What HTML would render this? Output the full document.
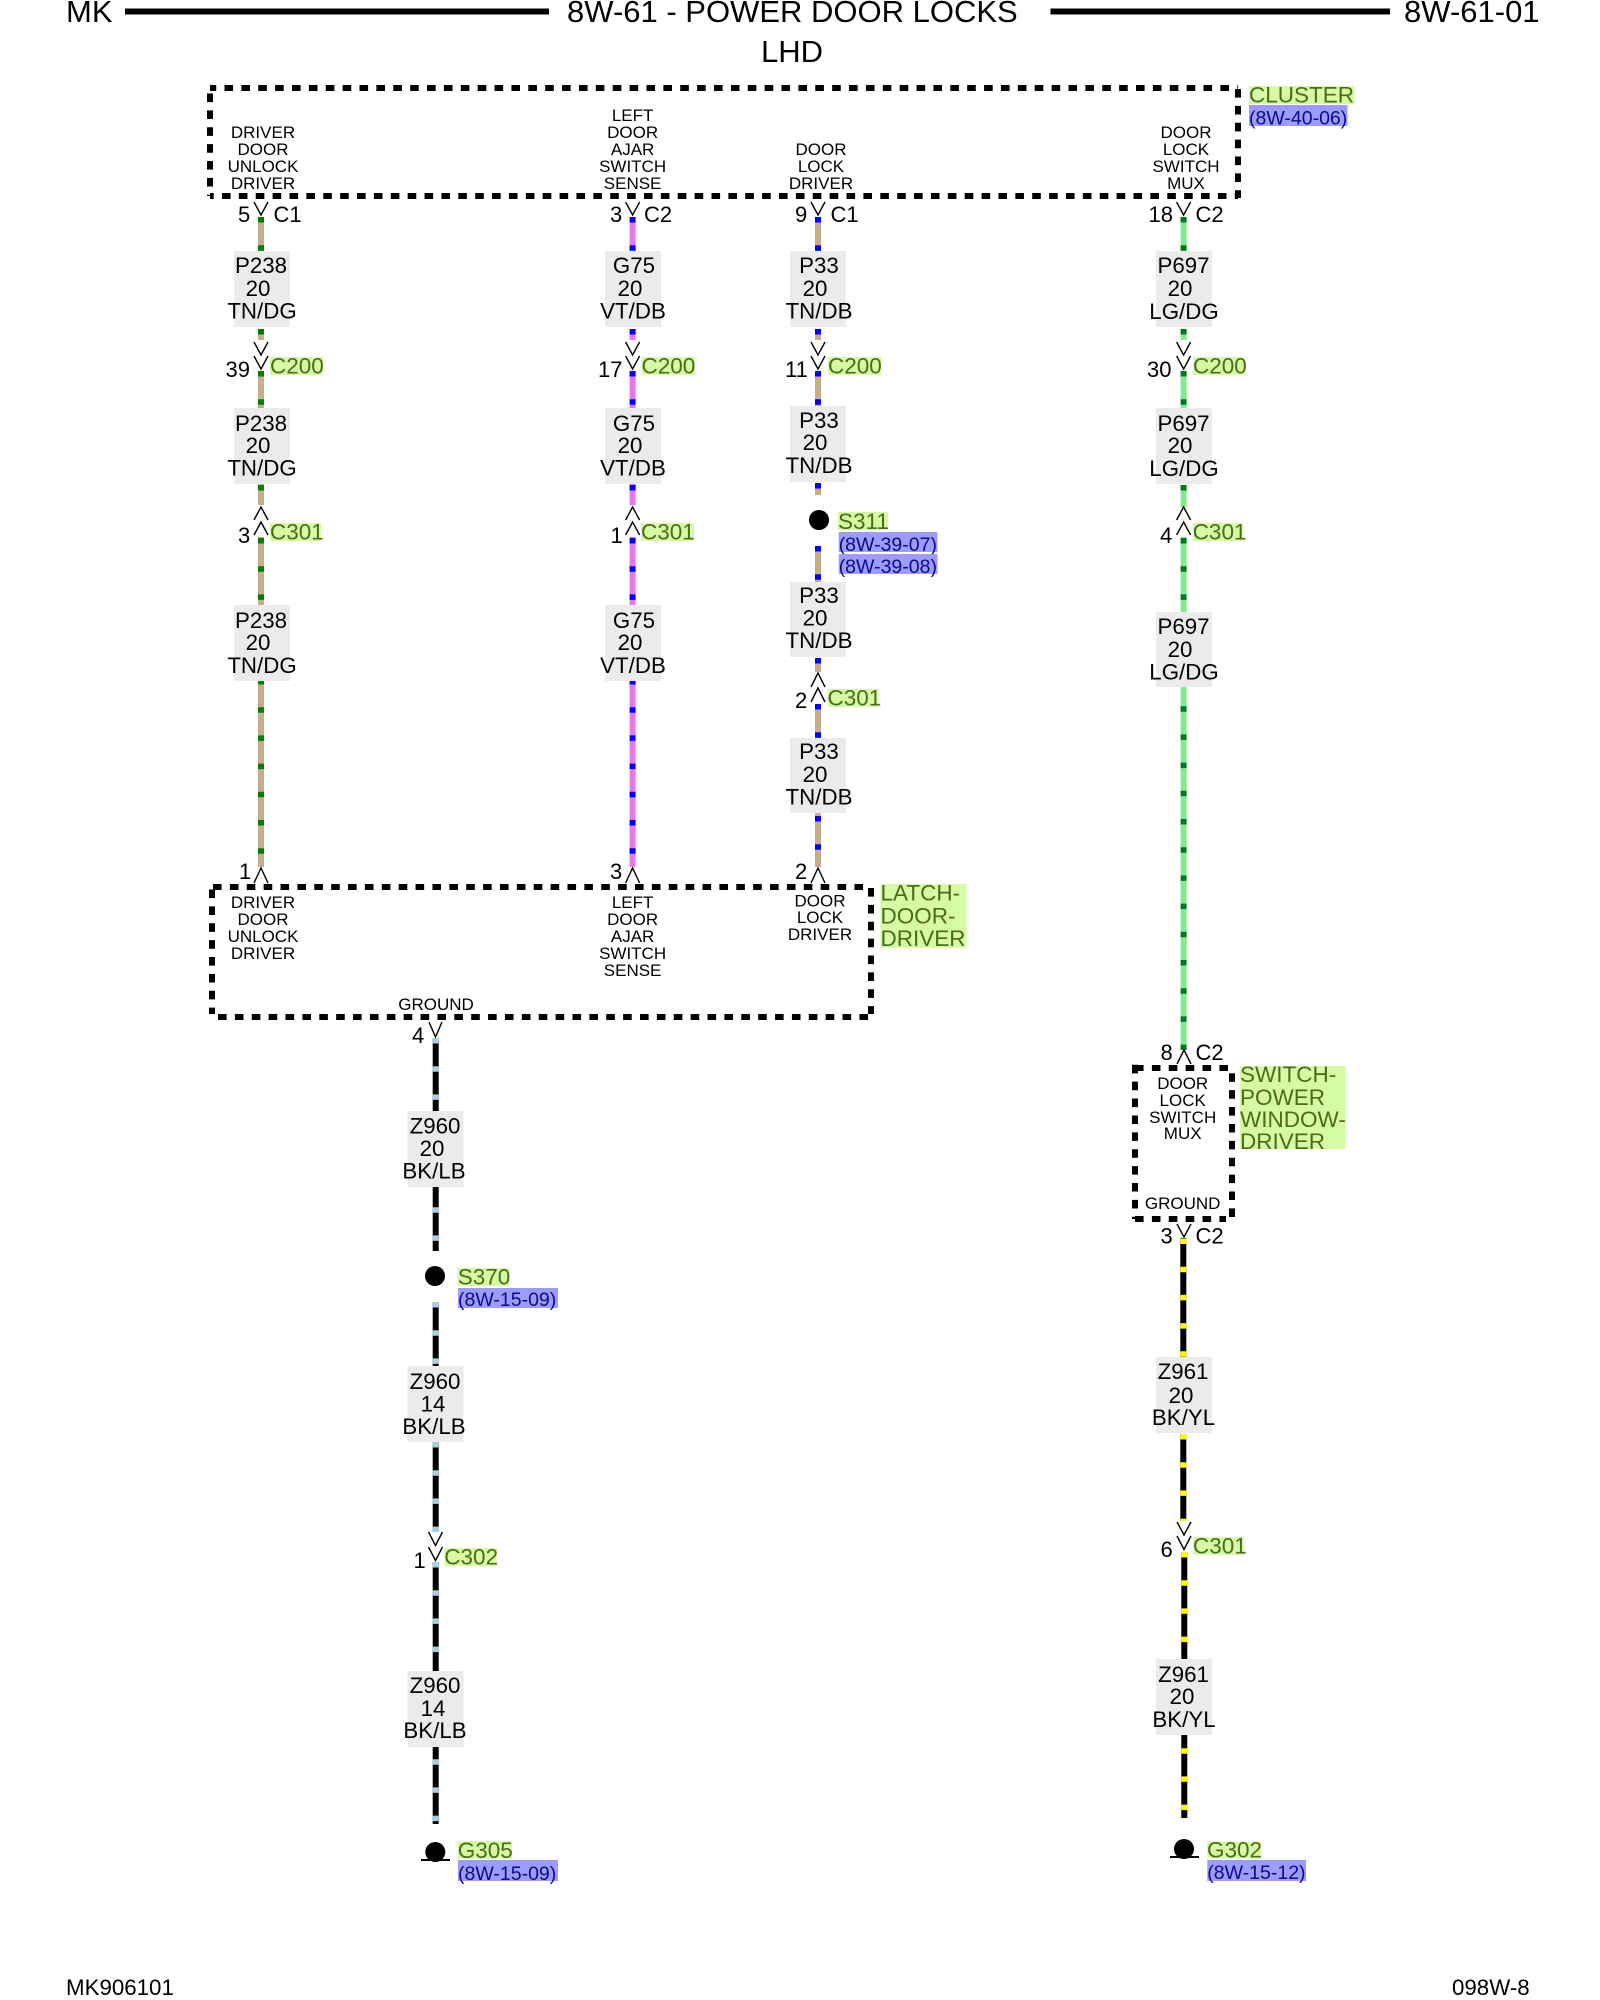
<!DOCTYPE html>
<html><head><meta charset="utf-8"><style>
html,body{margin:0;padding:0;background:#fff}
svg{display:block}
text{font-family:"Liberation Sans",Arial,sans-serif;fill:#000}
.t{font-size:31px}
.l{font-size:22.3px;text-anchor:middle}
.p{font-size:17px;text-anchor:middle}
.n{font-size:22px}
.f{font-size:22.3px}
.g{font-size:22.5px;fill:#4c6b17}
.v{font-size:19.5px;fill:#0a0a8c}
.hg{fill:#d6fba6}.hv{fill:#9c9cff}.lb{fill:#ebebeb}
.w{fill:none;stroke-width:6}
.d{fill:none;stroke-width:6;stroke-dasharray:5.5 22.7}
.c{fill:none;stroke:#000;stroke-width:1.4}
.b{fill:none;stroke:#000;stroke-width:6;stroke-dasharray:8.6 8.28}
</style></head><body>
<svg width="1600" height="2000" viewBox="0 0 1600 2000" xmlns="http://www.w3.org/2000/svg">
<rect width="1600" height="2000" fill="#fff"/>

<!-- header -->
<text class="t" x="66" y="22">MK</text>
<rect x="125" y="8.5" width="424" height="6"/>
<text class="t" x="567" y="22">8W-61 - POWER DOOR LOCKS</text>
<rect x="1050.5" y="8.5" width="339.5" height="6"/>
<text class="t" x="1404" y="22">8W-61-01</text>
<text class="t" x="761" y="62">LHD</text>

<!-- wires -->
<path class="w" stroke="#c8ad88" d="M261 217V251M261 329V340M261 371V408M261 484V505M261 537V605M261 681V867"/>
<path class="d" stroke="#008000" d="M261 217V251M261 329V336M261 371V408M261 485V491M261 538V605M261 679V867"/>
<path class="w" stroke="#e878e8" d="M632.6 217V251M632.6 329V340M632.6 371V408M632.6 484V505M632.6 537V605M632.6 681V867"/>
<path class="d" stroke="#0000ff" d="M632.6 217V251M632.6 329V336M632.6 371V408M632.6 485V491M632.6 538V605M632.6 679V867"/>
<path class="w" stroke="#c8ad88" d="M818 217V251M818 329V340M818 371V406M818 483V495M818 546V582M818 658V672M818 704V738M818 813V867"/>
<path class="d" stroke="#0000ff" d="M818 217V251M818 329V336M818 371V406M818 483V490M818 546V582M818 658V664M818 704V738M818 816V867"/>
<path class="w" stroke="#84ea8e" d="M1183.6 217V251M1183.6 329V340M1183.6 371V408M1183.6 485V507M1183.6 537V612M1183.6 687V1049"/>
<path class="d" stroke="#007a1e" d="M1183.6 217V251M1183.6 329V336M1183.6 371V408M1183.6 485V491M1183.6 538V612M1183.6 678V1050"/>
<path class="w" stroke="#000" d="M435.7 1038V1111M435.7 1187V1251M435.7 1302V1366M435.7 1442V1532M435.7 1562V1671M435.7 1747V1824"/>
<path class="d" stroke="#a8d0dc" d="M435.7 1038V1111M435.7 1179V1251M435.7 1302V1366M435.7 1442V1532M435.7 1562V1671M435.7 1731V1824"/>
<path class="w" stroke="#000" d="M1183.3 1238V1357M1183.3 1434V1521M1184.3 1552V1659M1184.3 1735V1818"/>
<path class="d" stroke="#ffff00" d="M1183.3 1238.5V1357M1183.3 1434V1521M1184.3 1552V1659M1184.3 1720V1818"/>

<!-- component boxes -->
<path class="b" style="stroke-dashoffset:2.4" d="M210 88H1238"/>
<path class="b" style="stroke-dashoffset:4.9" d="M210 196H1238"/>
<path class="b" d="M210 93.5V196"/>
<path class="b" d="M1238 89V198"/>

<path class="b" d="M213 887H871"/>
<path class="b" d="M218 1017H868"/>
<path class="b" d="M212 889.5V1014"/>
<path class="b" d="M871 888V1014"/>

<path class="b" d="M1135 1068H1229"/>
<path class="b" d="M1135 1219H1226"/>
<path class="b" d="M1135 1064.8V1219"/>
<path class="b" d="M1232 1073.3V1219"/>

<!-- chevrons -->
<path class="c" d="M254 202L261 215L268 202M254 342L261 355L268 342M254 356L261 369L268 356M254 520L261 507L268 520M254 535L261 522L268 535M254 883L261 868L268 883"/>
<path class="c" d="M625.6 202L632.6 215L639.6 202M625.6 342L632.6 355L639.6 342M625.6 356L632.6 369L639.6 356M625.6 520L632.6 507L639.6 520M625.6 535L632.6 522L639.6 535M625.6 883L632.6 868L639.6 883"/>
<path class="c" d="M811 202L818 215L825 202M811 342L818 355L825 342M811 356L818 369L825 356M811 687L818 673L825 687M811 702L818 688L825 702M811 883L818 868L825 883"/>
<path class="c" d="M1176.6 202L1183.6 215L1190.6 202M1176.6 342L1183.6 355L1190.6 342M1176.6 356L1183.6 369L1190.6 356M1176.6 520L1183.6 507L1190.6 520M1176.6 535L1183.6 522L1190.6 535M1177 1064L1184 1050L1191 1064"/>
<path class="c" d="M429 1022L435.5 1037L442 1022M428.5 1532L435.5 1545.5L442.5 1532M428.5 1547L435.5 1560.5L442.5 1547"/>
<path class="c" d="M1177 1224L1184 1237L1191 1224M1177 1522L1184 1535L1191 1522M1177 1536L1184 1549.5L1191 1536"/>

<!-- wire label backgrounds -->
<rect class="lb" x="234" y="251" width="56" height="76"/><rect class="lb" x="234" y="408" width="56" height="76"/><rect class="lb" x="234" y="605" width="56" height="76"/>
<rect class="lb" x="605" y="251" width="56" height="76"/><rect class="lb" x="605" y="408" width="56" height="76"/><rect class="lb" x="605" y="605" width="56" height="76"/>
<rect class="lb" x="790" y="251" width="56" height="76"/><rect class="lb" x="790" y="406" width="56" height="76"/><rect class="lb" x="790" y="582" width="56" height="75"/><rect class="lb" x="790" y="738" width="56" height="75"/>
<rect class="lb" x="1156" y="251" width="56" height="76"/><rect class="lb" x="1156" y="408" width="56" height="76"/><rect class="lb" x="1156" y="612" width="56" height="75"/>
<rect class="lb" x="407.5" y="1111" width="56" height="76"/><rect class="lb" x="407.5" y="1366" width="56" height="76"/><rect class="lb" x="407.5" y="1671" width="56" height="76"/>
<rect class="lb" x="1156" y="1357" width="56" height="76"/><rect class="lb" x="1156" y="1659" width="56" height="76"/>

<!-- wire labels -->
<text class="l" x="261" y="273">P238</text><text class="l" x="258" y="296">20</text><text class="l" x="262" y="318.5">TN/DG</text>
<text class="l" x="261" y="431">P238</text><text class="l" x="258" y="453">20</text><text class="l" x="262" y="475.5">TN/DG</text>
<text class="l" x="261" y="628">P238</text><text class="l" x="258" y="650">20</text><text class="l" x="262" y="673">TN/DG</text>

<text class="l" x="634" y="273">G75</text><text class="l" x="630" y="296">20</text><text class="l" x="633" y="318.5">VT/DB</text>
<text class="l" x="634" y="431">G75</text><text class="l" x="630" y="453">20</text><text class="l" x="633" y="475.5">VT/DB</text>
<text class="l" x="634" y="628">G75</text><text class="l" x="630" y="650">20</text><text class="l" x="633" y="673">VT/DB</text>

<text class="l" x="819" y="273">P33</text><text class="l" x="815" y="296">20</text><text class="l" x="819" y="318.5">TN/DB</text>
<text class="l" x="819" y="428">P33</text><text class="l" x="815" y="450">20</text><text class="l" x="819" y="473">TN/DB</text>
<text class="l" x="819" y="603">P33</text><text class="l" x="815" y="625.5">20</text><text class="l" x="819" y="648">TN/DB</text>
<text class="l" x="819" y="759">P33</text><text class="l" x="815" y="782">20</text><text class="l" x="819" y="804.5">TN/DB</text>

<text class="l" x="1183.5" y="273">P697</text><text class="l" x="1180" y="296">20</text><text class="l" x="1184" y="319">LG/DG</text>
<text class="l" x="1183.5" y="431">P697</text><text class="l" x="1180" y="453">20</text><text class="l" x="1184" y="476">LG/DG</text>
<text class="l" x="1183.5" y="634">P697</text><text class="l" x="1180" y="657">20</text><text class="l" x="1184" y="679.5">LG/DG</text>

<text class="l" x="435" y="1133.5">Z960</text><text class="l" x="432" y="1156">20</text><text class="l" x="434" y="1178.5">BK/LB</text>
<text class="l" x="435" y="1389">Z960</text><text class="l" x="433" y="1411.5">14</text><text class="l" x="434" y="1434">BK/LB</text>
<text class="l" x="435" y="1693">Z960</text><text class="l" x="433" y="1716">14</text><text class="l" x="435" y="1738">BK/LB</text>

<text class="l" x="1183" y="1379">Z961</text><text class="l" x="1181" y="1403">20</text><text class="l" x="1183.5" y="1425">BK/YL</text>
<text class="l" x="1183.5" y="1682">Z961</text><text class="l" x="1182" y="1704">20</text><text class="l" x="1184" y="1727">BK/YL</text>

<!-- pin names : cluster -->
<text class="p" x="263" y="138">DRIVER</text><text class="p" x="263" y="155">DOOR</text><text class="p" x="263" y="172">UNLOCK</text><text class="p" x="263" y="189">DRIVER</text>
<text class="p" x="632.6" y="121">LEFT</text><text class="p" x="632.6" y="138">DOOR</text><text class="p" x="632.6" y="155">AJAR</text><text class="p" x="632.6" y="172">SWITCH</text><text class="p" x="632.6" y="189">SENSE</text>
<text class="p" x="821" y="155">DOOR</text><text class="p" x="821" y="172">LOCK</text><text class="p" x="821" y="189">DRIVER</text>
<text class="p" x="1186" y="138">DOOR</text><text class="p" x="1186" y="155">LOCK</text><text class="p" x="1186" y="172">SWITCH</text><text class="p" x="1186" y="189">MUX</text>

<!-- pin names : latch -->
<text class="p" x="263" y="908">DRIVER</text><text class="p" x="263" y="925">DOOR</text><text class="p" x="263" y="942">UNLOCK</text><text class="p" x="263" y="959">DRIVER</text>
<text class="p" x="632.6" y="908">LEFT</text><text class="p" x="632.6" y="925">DOOR</text><text class="p" x="632.6" y="942">AJAR</text><text class="p" x="632.6" y="959">SWITCH</text><text class="p" x="632.6" y="976">SENSE</text>
<text class="p" x="820" y="906.5">DOOR</text><text class="p" x="820" y="923">LOCK</text><text class="p" x="820" y="940">DRIVER</text>
<text class="p" x="436" y="1013" dy="-3">GROUND</text>

<!-- pin names : switch -->
<text class="p" x="1182.7" y="1089">DOOR</text><text class="p" x="1182.7" y="1106">LOCK</text><text class="p" x="1182.7" y="1123">SWITCH</text><text class="p" x="1182.7" y="1139">MUX</text>
<text class="p" x="1182.7" y="1209">GROUND</text>

<!-- pin numbers -->
<text class="n" x="238" y="222">5</text><text class="n" x="273.5" y="222">C1</text>
<text class="n" x="610" y="222">3</text><text class="n" x="644" y="222">C2</text>
<text class="n" x="795" y="222">9</text><text class="n" x="830.5" y="222">C1</text>
<text class="n" x="1148.5" y="222">18</text><text class="n" x="1195.5" y="222">C2</text>
<text class="n" x="225.5" y="377">39</text><text class="n" x="598" y="377">17</text><text class="n" x="785" y="377">11</text><text class="n" x="1147" y="377">30</text>
<text class="n" x="238" y="543">3</text><text class="n" x="610.5" y="543">1</text><text class="n" x="1160" y="543">4</text><text class="n" x="795" y="708">2</text>
<text class="n" x="239" y="879">1</text><text class="n" x="610" y="879">3</text><text class="n" x="795" y="879">2</text>
<text class="n" x="412" y="1043">4</text>
<text class="n" x="1160.5" y="1060">8</text><text class="n" x="1195.5" y="1060">C2</text>
<text class="n" x="1160.5" y="1243.5">3</text><text class="n" x="1195.5" y="1243.5">C2</text>
<text class="n" x="413.5" y="1568">1</text>
<text class="n" x="1160.5" y="1557">6</text>

<!-- connector names -->
<rect class="hg" x="270" y="357" width="53" height="18"/><text class="g" x="270" y="373.5">C200</text>
<rect class="hg" x="641.5" y="357" width="53.5" height="18"/><text class="g" x="641.5" y="373.5">C200</text>
<rect class="hg" x="828" y="357" width="53" height="18"/><text class="g" x="828" y="373.5">C200</text>
<rect class="hg" x="1193" y="357" width="52" height="18"/><text class="g" x="1193" y="373.5">C200</text>
<rect class="hg" x="270" y="523" width="51" height="18"/><text class="g" x="270" y="539.5">C301</text>
<rect class="hg" x="641" y="523" width="53" height="18"/><text class="g" x="641" y="539.5">C301</text>
<rect class="hg" x="1192.7" y="523" width="50" height="18"/><text class="g" x="1192.7" y="539.5">C301</text>
<rect class="hg" x="827.5" y="689" width="51" height="18"/><text class="g" x="827.5" y="705.5">C301</text>
<rect class="hg" x="444.3" y="1548" width="52.4" height="18"/><text class="g" x="444.3" y="1564.5">C302</text>
<rect class="hg" x="1193" y="1537" width="51" height="18"/><text class="g" x="1193" y="1553.5">C301</text>

<!-- component names -->
<rect class="hg" x="1249" y="86" width="105.6" height="18"/><text class="g" x="1249" y="102.5">CLUSTER</text>
<rect class="hv" x="1249" y="105" width="98.5" height="21"/><text class="v" x="1249" y="124.5">(8W-40-06)</text>
<rect class="hg" x="880.5" y="884" width="86" height="64"/><text class="g" x="880.5" y="900.5">LATCH-</text><text class="g" x="880.5" y="923.5">DOOR-</text><text class="g" x="880.5" y="946">DRIVER</text>
<rect class="hg" x="1240" y="1066" width="105.7" height="83"/><text class="g" x="1240" y="1082">SWITCH-</text><text class="g" x="1240" y="1105">POWER</text><text class="g" x="1240" y="1127">WINDOW-</text><text class="g" x="1240" y="1149">DRIVER</text>

<!-- splices -->
<ellipse cx="819" cy="520" rx="10" ry="10"/>
<rect class="hg" x="838" y="512" width="50" height="18"/><text class="g" x="838" y="529">S311</text>
<rect class="hv" x="838.7" y="532" width="98.8" height="20"/><text class="v" x="838.7" y="551">(8W-39-07)</text>
<rect class="hv" x="838.7" y="554" width="98.8" height="20"/><text class="v" x="838.7" y="573">(8W-39-08)</text>
<circle cx="435" cy="1276" r="10"/>
<rect class="hg" x="457.7" y="1268" width="51.3" height="18"/><text class="g" x="457.7" y="1284.5">S370</text>
<rect class="hv" x="458" y="1288" width="100" height="20"/><text class="v" x="458" y="1306">(8W-15-09)</text>

<!-- grounds -->
<circle cx="435.3" cy="1852" r="10"/><rect x="421" y="1859" width="29" height="2"/>
<rect class="hg" x="457.7" y="1841" width="54.3" height="18"/><text class="g" x="457.7" y="1858">G305</text>
<rect class="hv" x="458" y="1860" width="100" height="21"/><text class="v" x="458" y="1880">(8W-15-09)</text>
<circle cx="1184" cy="1849" r="10"/><rect x="1170" y="1856" width="29" height="2"/>
<rect class="hg" x="1207" y="1841.7" width="54" height="17"/><text class="g" x="1207" y="1857.7">G302</text>
<rect class="hv" x="1207.3" y="1860" width="98.7" height="21"/><text class="v" x="1207.3" y="1879">(8W-15-12)</text>

<!-- footer -->
<text class="f" x="66" y="1995">MK906101</text>
<text class="f" x="1452" y="1995">098W-8</text>
</svg>
</body></html>
